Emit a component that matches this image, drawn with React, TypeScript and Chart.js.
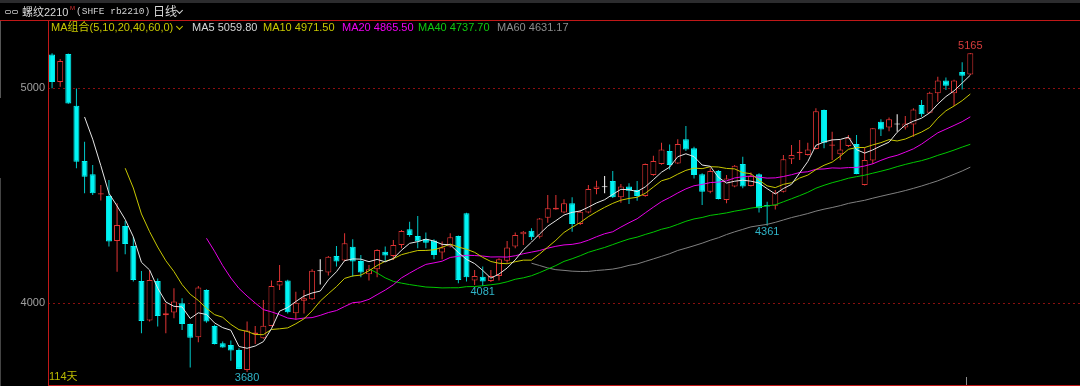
import React, { useEffect, useRef } from 'react';
import { Chart, registerables } from 'chart.js';

Chart.register(...registerables);

// ---- data (daily OHLC, 114 trading days) ----
const opens = [
  5158, 5029, 5160, 4919, 4662, 4600, 4506, 4499, 4290, 4360,
  4267, 4104, 3920, 4104, 3945, 3957, 4000, 3904, 3842, 4062,
  3895, 3814, 3806, 3783, 3690, 3855, 3837, 3895, 4083, 4106,
  3954, 4012, 4019, 4149, 4143, 4220, 4199, 4263, 4197, 4135,
  4158, 4240, 4220, 4271, 4344, 4313, 4299, 4292, 4236, 4264,
  4313, 4419, 4106, 4124, 4104, 4127, 4198, 4264, 4321, 4338,
  4310, 4398, 4437, 4422, 4465, 4369, 4422, 4532, 4540, 4569,
  4493, 4543, 4527, 4499, 4597, 4648, 4708, 4651, 4763, 4721,
  4600, 4519, 4615, 4481, 4543, 4648, 4546, 4601, 4457, 4454,
  4519, 4670, 4698, 4690, 4718, 4899, 4733, 4693, 4732, 4741,
  4550, 4664, 4845, 4818, 4832, 4818, 4832, 4922, 4887, 4977,
  5036, 4977, 5076, 5065,
];
const highs = [
  5163, 5136, 5162, 4999, 4752, 4643, 4550, 4574, 4465, 4383,
  4310, 4150, 4150, 4116, 4000, 4070, 4023, 3906, 4081, 4066,
  3900, 3822, 3827, 3791, 3915, 3895, 4016, 4106, 4178, 4110,
  4054, 4062, 4158, 4205, 4220, 4267, 4326, 4298, 4225, 4178,
  4251, 4264, 4295, 4341, 4380, 4406, 4329, 4298, 4287, 4326,
  4316, 4421, 4155, 4171, 4155, 4210, 4290, 4329, 4336, 4349,
  4397, 4504, 4504, 4484, 4493, 4434, 4550, 4570, 4592, 4615,
  4555, 4558, 4569, 4651, 4687, 4747, 4739, 4763, 4825, 4728,
  4605, 4628, 4620, 4597, 4643, 4682, 4608, 4605, 4473, 4527,
  4690, 4736, 4760, 4747, 4907, 4902, 4798, 4760, 4783, 4783,
  4725, 4816, 4856, 4865, 4880, 4871, 4907, 4946, 4984, 5054,
  5051, 5040, 5121, 5165,
];
const lows = [
  5000, 5008, 4928, 4628, 4512, 4504, 4478, 4264, 4147, 4228,
  4101, 3861, 3915, 3892, 3861, 3930, 3876, 3701, 3819, 3910,
  3808, 3793, 3733, 3693, 3680, 3811, 3835, 3893, 4062, 3953,
  3923, 3953, 4016, 4088, 4129, 4171, 4196, 4124, 4121, 4106,
  4121, 4194, 4202, 4256, 4310, 4256, 4256, 4205, 4205, 4260,
  4093, 4101, 4085, 4081, 4099, 4106, 4189, 4256, 4271, 4295,
  4302, 4375, 4435, 4419, 4333, 4364, 4419, 4507, 4512, 4490,
  4468, 4462, 4477, 4496, 4594, 4645, 4623, 4648, 4708, 4581,
  4457, 4512, 4483, 4465, 4540, 4535, 4543, 4422, 4361, 4437,
  4516, 4648, 4667, 4688, 4715, 4721, 4667, 4667, 4727, 4600,
  4548, 4648, 4778, 4801, 4798, 4809, 4775, 4868, 4884, 4938,
  4992, 4918, 4995, 5062,
];
const closes = [
  5029, 5127, 4930, 4659, 4589, 4512, 4512, 4287, 4364, 4276,
  4109, 3918, 4109, 3941, 3954, 4008, 3904, 3840, 4073, 3915,
  3811, 3795, 3780, 3695, 3873, 3864, 3896, 4081, 4104, 3958,
  4003, 4023, 4152, 4149, 4217, 4194, 4279, 4194, 4143, 4158,
  4248, 4222, 4271, 4336, 4318, 4287, 4282, 4225, 4260, 4307,
  4109, 4121, 4127, 4101, 4127, 4205, 4260, 4318, 4333, 4307,
  4395, 4442, 4445, 4465, 4369, 4426, 4532, 4543, 4540, 4493,
  4543, 4524, 4499, 4648, 4662, 4716, 4643, 4741, 4716, 4597,
  4519, 4615, 4485, 4581, 4640, 4543, 4592, 4442, 4450, 4516,
  4670, 4690, 4705, 4716, 4894, 4747, 4739, 4716, 4770, 4602,
  4667, 4814, 4809, 4856, 4832, 4837, 4902, 4879, 4980, 5036,
  5012, 5036, 5059, 5163,
];
const blankSlots = 13;
const dayLabels = closes.map((_, i) => String(i + 1)).concat(Array(blankSlots).fill(''));

const maPeriods = [5, 10, 20, 40, 60];
const maColors = ['#e6e6e6', '#c8c800', '#e800e8', '#00c800', '#808080'];
const maLegendText = ['MA5 5059.80', 'MA10 4971.50', 'MA20 4865.50', 'MA40 4737.70', 'MA60 4631.17'];
const maLegendColors = ['#d4d4d4', '#c8c800', '#f000f0', '#10c810', '#8c8c8c'];

const yTicks = [4000, 5000];
const markIndex = [24, 53, 88, 113];
const markKind = ['low', 'low', 'low', 'high'];

const UP = '#e03434';
const DOWN = '#00f4f4';
const DOWN_WICK = '#00c8c8';
const FLAT = '#ffffff';

function movingAverage(values: number[], period: number) {
  return values.map((_, i) => {
    if (i < period - 1) return null;
    let s = 0;
    for (let k = i - period + 1; k <= i; k++) s += values[k];
    return s / period;
  });
}

const extremesPlugin = {
  id: 'extremes',
  afterDatasetsDraw(chart: any) {
    const { ctx } = chart;
    const x = chart.scales.x;
    const y = chart.scales.y;
    ctx.save();
    ctx.font = '11px "Liberation Sans", Arial, sans-serif';
    ctx.textAlign = 'center';
    markIndex.forEach((idx, k) => {
      const px = x.getPixelForValue(idx);
      if (markKind[k] === 'low') {
        const v = lows[idx];
        ctx.fillStyle = '#2fb4c8';
        ctx.textBaseline = 'top';
        ctx.fillText(String(v), px, y.getPixelForValue(v) + 0.5);
      } else {
        const v = highs[idx];
        ctx.fillStyle = '#d63c3c';
        ctx.textBaseline = 'bottom';
        ctx.fillText(String(v), px, y.getPixelForValue(v) - 1);
      }
    });
    ctx.restore();
  },
};

const Chevron = ({ left, top, color }: { left: number; top: number; color: string }) => (
  <div
    style={{
      position: 'absolute',
      left,
      top,
      width: 4,
      height: 4,
      borderRight: `1.5px solid ${color}`,
      borderBottom: `1.5px solid ${color}`,
      transform: 'rotate(45deg)',
    }}
  />
);

export default function App() {
  const ref = useRef<HTMLCanvasElement>(null);

  useEffect(() => {
    document.body.style.margin = '0';
    document.body.style.background = '#000';
    const dir = closes.map((c, i) => (c > opens[i] ? 1 : c < opens[i] ? -1 : 0));
    const bodyFill = dir.map((d) => (d > 0 ? '#000000' : d < 0 ? DOWN : FLAT));
    const bodyStroke = dir.map((d) => (d > 0 ? UP : d < 0 ? DOWN : FLAT));
    const wickColor = dir.map((d) => (d > 0 ? UP : d < 0 ? DOWN_WICK : FLAT));

    const chart = new Chart(ref.current as HTMLCanvasElement, {
      type: 'bar',
      data: {
        labels: dayLabels,
        datasets: [
          ...maPeriods.map((p, k) => ({
            type: 'line' as const,
            label: `MA${p}`,
            data: movingAverage(closes, p),
            borderColor: maColors[k],
            borderWidth: 1,
            pointRadius: 0,
            tension: 0,
            spanGaps: false,
            order: 0,
          })),
          {
            type: 'bar' as const,
            label: 'body',
            data: opens.map((o, i) => [o, closes[i]]),
            backgroundColor: bodyFill,
            borderColor: bodyStroke,
            borderWidth: 1,
            borderSkipped: false,
            barThickness: 6,
            grouped: false,
            minBarLength: 1,
            inflateAmount: 0,
            order: 1,
          },
          {
            type: 'bar' as const,
            label: 'wick',
            data: lows.map((l, i) => [l, highs[i]]),
            backgroundColor: wickColor,
            borderWidth: 0,
            barThickness: 1,
            grouped: false,
            inflateAmount: 0,
            order: 2,
          },
        ],
      } as any,
      options: {
        responsive: false,
        maintainAspectRatio: false,
        animation: false,
        events: [],
        layout: { padding: { top: 20, bottom: 1, left: 0, right: 0 } },
        plugins: { legend: { display: false }, tooltip: { enabled: false } },
        scales: {
          x: { display: false, offset: true, grid: { display: false } },
          y: {
            min: 3620,
            max: 5318,
            position: 'left',
            afterFit(s: any) {
              s.width = 48;
              s.paddingTop = 0;
              s.paddingBottom = 0;
            },
            afterBuildTicks(s: any) {
              s.ticks = yTicks.map((v) => ({ value: v }));
            },
            ticks: {
              color: '#a0a0a0',
              padding: 3,
              font: { size: 11, family: '"Liberation Sans", Arial, sans-serif' },
              callback: (v: any) => String(v),
            },
            grid: { color: '#8a1010', drawTicks: false, lineWidth: 1 },
            border: { display: false, dash: [2, 3] },
          },
        } as any,
      },
      plugins: [extremesPlugin],
    });
    return () => chart.destroy();
  }, []);

  const font = '"Liberation Sans", "Noto Sans CJK SC", Arial, sans-serif';
  const maLegendX = [192, 263, 342, 418, 497];

  return (
    <div style={{ position: 'relative', width: 1080, height: 386, background: '#000', overflow: 'hidden', fontFamily: font }}>
      <canvas ref={ref} width={1080} height={386} style={{ display: 'block', position: 'absolute', left: 0, top: 0 }} />
      {/* top strip */}
      <div style={{ position: 'absolute', left: 0, top: 0, width: 1080, height: 3, background: '#2c2c2e' }} />
      {/* frame lines */}
      <div style={{ position: 'absolute', left: 0, top: 20, width: 1080, height: 1, background: '#c01818' }} />
      <div style={{ position: 'absolute', left: 48, top: 20, width: 1, height: 366, background: '#c01818' }} />
      <div style={{ position: 'absolute', left: 48, top: 385, width: 1032, height: 1, background: '#c01818' }} />
      <div style={{ position: 'absolute', left: 0, top: 21, width: 1, height: 77, background: '#555' }} />
      <div style={{ position: 'absolute', left: 0, top: 178, width: 1, height: 208, background: '#444' }} />
      {/* bottom marker */}
      <div style={{ position: 'absolute', left: 966, top: 377, width: 1, height: 8, background: '#8c8c8c' }} />

      {/* header row 1 */}
      <div style={{ position: 'absolute', left: 5, top: 10, width: 6, height: 4, border: '1px solid #9a9a9a', borderRadius: 1, boxSizing: 'border-box' }} />
      <div style={{ position: 'absolute', left: 12, top: 10, width: 6, height: 4, border: '1px solid #9a9a9a', borderRadius: 1, boxSizing: 'border-box' }} />
      <div style={{ position: 'absolute', left: 22, top: 5, fontSize: 11, lineHeight: '14px', color: '#d8d8d8', whiteSpace: 'nowrap' }}>螺纹2210</div>
      <div style={{ position: 'absolute', left: 70, top: 5, fontSize: 6, lineHeight: '7px', color: '#e03030' }}>M</div>
      <div style={{ position: 'absolute', left: 76, top: 6, fontSize: 9.5, lineHeight: '12px', color: '#cfcfcf', fontFamily: '"Liberation Mono", "DejaVu Sans Mono", monospace', whiteSpace: 'nowrap' }}>(SHFE rb2210)</div>
      <div style={{ position: 'absolute', left: 153, top: 5, fontSize: 12, lineHeight: '14px', color: '#d8d8d8' }}>日线</div>
      <Chevron left={177} top={8} color="#d8d8d8" />

      {/* header row 2: MA legend */}
      <div style={{ position: 'absolute', left: 51, top: 21, fontSize: 11, lineHeight: '13px', color: '#c8c800', whiteSpace: 'nowrap' }}>MA组合(5,10,20,40,60,0)</div>
      <Chevron left={177} top={24} color="#c8c800" />
      {maLegendText.map((t, k) => (
        <div key={t} style={{ position: 'absolute', left: maLegendX[k], top: 21, fontSize: 11, lineHeight: '13px', color: maLegendColors[k], whiteSpace: 'nowrap' }}>
          {t}
        </div>
      ))}

      {/* day count */}
      <div style={{ position: 'absolute', left: 49, top: 370, fontSize: 11, lineHeight: '13px', color: '#b8b800', whiteSpace: 'nowrap' }}>114天</div>
    </div>
  );
}
